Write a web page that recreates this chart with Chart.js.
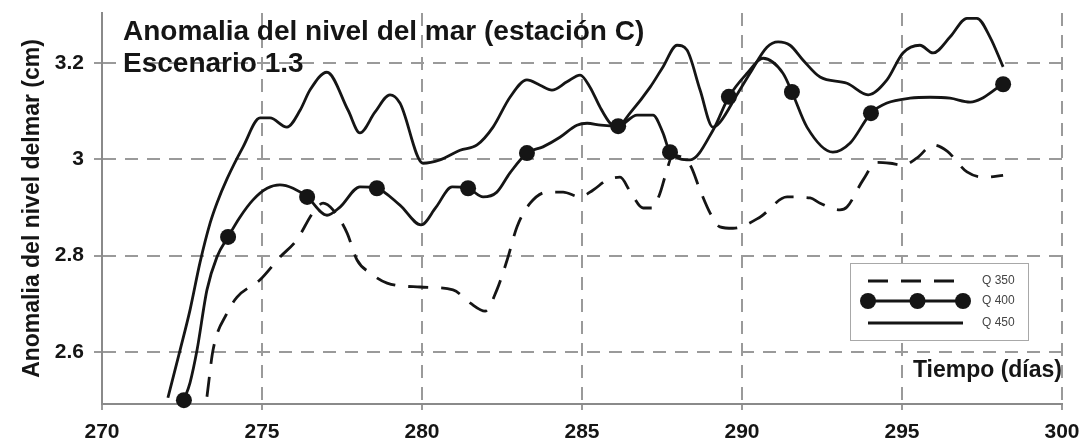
<!DOCTYPE html>
<html lang="es">
<head>
<meta charset="utf-8">
<title>Anomalia del nivel del mar</title>
<script src="https://cdn.jsdelivr.net/npm/chart.js@4.4.1/dist/chart.umd.min.js"></script>
<style>
  html, body { margin: 0; padding: 0; background: #fff; }
  #grafico { display: block; }
</style>
</head>
<body>
<canvas id="grafico" width="1084" height="446"></canvas>
<script>
// datos (dias / cm)
const q350Dias = [273.28, 273.47, 273.91, 274.22, 274.94, 275.56, 276.09, 276.59, 276.91, 277.22,
  277.66, 277.97, 278.38, 278.91, 279.94, 280.97, 281.5, 281.97, 282.34, 282.66,
  282.97, 283.38, 283.91, 284.41, 284.94, 285.34, 285.78, 286.19, 286.5, 286.91,
  287.19, 287.44, 287.59, 287.84, 288.38, 288.69, 289.0, 289.31, 289.72, 290.56,
  291.41, 292.13, 292.44, 293.06, 293.28, 293.78, 294.22, 294.63, 295.03, 295.47,
  295.97, 296.41, 297.03, 297.59, 298.16];
const q350Valores = [2.507, 2.604, 2.681, 2.714, 2.75, 2.797, 2.833, 2.889, 2.909, 2.895,
  2.847, 2.791, 2.764, 2.743, 2.735, 2.729, 2.702, 2.685, 2.729, 2.791,
  2.86, 2.909, 2.932, 2.932, 2.922, 2.936, 2.957, 2.963, 2.934, 2.899,
  2.899, 2.93, 2.963, 3.008, 2.988, 2.936, 2.889, 2.86, 2.857, 2.88,
  2.922, 2.92, 2.909, 2.895, 2.901, 2.957, 2.994, 2.992, 2.988, 3.003,
  3.03, 3.017, 2.974, 2.963, 2.967];

const q400Dias = [272.56, 272.75, 272.97, 273.28, 273.59, 273.94, 274.31, 274.72, 275.16, 275.56,
  275.97, 276.41, 277.03, 277.44, 278.06, 278.59, 279.31, 279.97, 280.44, 280.94,
  281.44, 281.91, 282.34, 282.75, 283.28, 283.78, 284.31, 284.84, 285.16, 285.59,
  286.13, 286.72, 287.22, 287.53, 287.75, 288.38, 289.09, 289.59, 290.16, 290.66,
  291.28, 291.56, 292.03, 292.84, 293.38, 294.03, 294.53, 295.25, 295.88, 296.5,
  297.13, 298.16];
const q400Valores = [2.5, 2.536, 2.604, 2.729, 2.797, 2.839, 2.88, 2.916, 2.94, 2.947,
  2.94, 2.922, 2.884, 2.901, 2.943, 2.94, 2.905, 2.864, 2.901, 2.943,
  2.94, 2.922, 2.932, 2.972, 3.013, 3.026, 3.046, 3.071, 3.075, 3.071,
  3.069, 3.092, 3.092, 3.055, 3.015, 2.999, 3.06, 3.13, 3.179, 3.21,
  3.179, 3.14, 3.067, 3.015, 3.034, 3.096, 3.117, 3.127, 3.129, 3.127,
  3.119, 3.156];
// indices de q400 que llevan marcador
const q400Marcas = [0, 5, 11, 15, 20, 24, 30, 34, 37, 41, 45, 51];

const q450Dias = [272.06, 272.44, 272.75, 273.06, 273.38, 273.59, 273.91, 274.41, 274.94, 275.25,
  275.78, 276.19, 276.5, 277.03, 277.69, 278.06, 278.53, 279.0, 279.31, 280.03,
  280.56, 281.19, 281.72, 282.22, 282.75, 283.28, 283.69, 284.06, 284.53, 284.94,
  285.25, 285.56, 285.88, 286.09, 286.5, 287.13, 287.53, 287.97, 288.28, 288.69,
  289.09, 289.31, 289.84, 290.25, 290.78, 291.13, 291.5, 291.91, 292.44, 293.28,
  293.94, 294.53, 295.03, 295.56, 295.97, 296.5, 297.03, 297.34, 297.75, 298.16];
const q450Valores = [2.505, 2.604, 2.687, 2.785, 2.868, 2.909, 2.96, 3.026, 3.086, 3.086,
  3.067, 3.102, 3.144, 3.181, 3.102, 3.055, 3.098, 3.134, 3.117, 2.992,
  2.999, 3.019, 3.03, 3.067, 3.129, 3.165, 3.154, 3.144, 3.161, 3.175,
  3.15, 3.109, 3.075, 3.067, 3.096, 3.15, 3.192, 3.237, 3.227, 3.144,
  3.067, 3.077, 3.134, 3.179, 3.233, 3.244, 3.237, 3.206, 3.171, 3.158,
  3.134, 3.165, 3.221, 3.237, 3.221, 3.254, 3.293, 3.293, 3.254, 3.192];

const ticksX = [270, 275, 280, 285, 290, 295, 300];
const ticksY = [2.6, 2.8, 3.0, 3.2];
const titulo = ["Anomalia del nivel del mar (estación C)", "Escenario 1.3"];
const etiquetas = ["Q 350", "Q 400", "Q 450"];

const fuente = "'Liberation Sans', Arial, sans-serif";
const negro = "#151515";
const gris = "#9a9a9a";

function puntos(dias, valores) {
  return dias.map((d, i) => ({x: d, y: valores[i]}));
}

// titulo dentro del area del grafico
const tituloInterno = {
  id: "tituloInterno",
  afterDatasetsDraw(chart) {
    const {ctx, chartArea} = chart;
    ctx.save();
    ctx.fillStyle = negro;
    ctx.font = "bold 28px " + fuente;
    ctx.textBaseline = "alphabetic";
    ctx.fillText(titulo[0], chartArea.left + 21, chartArea.top + 27);
    ctx.fillText(titulo[1], chartArea.left + 21, chartArea.top + 59);
    ctx.restore();
  }
};

// leyenda con recuadro en la esquina inferior derecha
const leyendaInterna = {
  id: "leyendaInterna",
  afterDatasetsDraw(chart) {
    const {ctx, chartArea} = chart;
    const x0 = chartArea.right - 212;
    const y0 = chartArea.bottom - 141;
    ctx.save();
    ctx.fillStyle = "#fff";
    ctx.fillRect(x0, y0, 178, 77);
    ctx.strokeStyle = "#a8a8a8";
    ctx.lineWidth = 1;
    ctx.strokeRect(x0 + 0.5, y0 + 0.5, 178, 77);

    const filas = [18, 38, 60];
    chart.data.datasets.forEach((ds, i) => {
      const y = y0 + filas[i];
      const xa = x0 + 18, xb = x0 + 113;
      ctx.strokeStyle = ds.borderColor;
      ctx.lineWidth = ds.borderWidth;
      ctx.setLineDash(ds.borderDash || []);
      ctx.beginPath();
      ctx.moveTo(xa, y);
      ctx.lineTo(xb, y);
      ctx.stroke();
      ctx.setLineDash([]);
      if (i === 1) {
        ctx.fillStyle = ds.pointBackgroundColor;
        [xa, (xa + xb) / 2 + 2, xb].forEach((px) => {
          ctx.beginPath();
          ctx.arc(px, y, 8, 0, Math.PI * 2);
          ctx.fill();
        });
      }
      ctx.fillStyle = "#444";
      ctx.font = "12px " + fuente;
      ctx.textBaseline = "middle";
      ctx.fillText(etiquetas[i], x0 + 132, y);
    });
    ctx.restore();
  }
};

new Chart(document.getElementById("grafico"), {
  type: "line",
  data: {
    datasets: [
      {
        label: etiquetas[0],
        data: puntos(q350Dias, q350Valores),
        borderColor: negro,
        borderWidth: 2.8,
        borderDash: [20, 13],
        pointRadius: 0,
        cubicInterpolationMode: "monotone",
        clip: false
      },
      {
        label: etiquetas[1],
        data: puntos(q400Dias, q400Valores),
        borderColor: negro,
        borderWidth: 2.8,
        pointRadius: q400Dias.map((_, i) => q400Marcas.includes(i) ? 8 : 0),
        pointBackgroundColor: negro,
        pointBorderWidth: 0,
        cubicInterpolationMode: "monotone",
        clip: false
      },
      {
        label: etiquetas[2],
        data: puntos(q450Dias, q450Valores),
        borderColor: negro,
        borderWidth: 2.8,
        pointRadius: 0,
        cubicInterpolationMode: "monotone",
        clip: false
      }
    ]
  },
  options: {
    responsive: false,
    animation: false,
    events: [],
    layout: {padding: {top: 13, right: 22, left: 0, bottom: 0}},
    plugins: {
      legend: {display: false},
      tooltip: {enabled: false}
    },
    scales: {
      x: {
        type: "linear",
        min: 270,
        max: 300,
        afterBuildTicks: (axis) => { axis.ticks = ticksX.map((v) => ({value: v})); },
        afterFit: (axis) => {
          axis.height = 42;
          axis.paddingLeft = 0;
          axis.paddingRight = 0;
        },
        grid: {color: gris, lineWidth: 2, tickLength: 6},
        border: {color: "#8a8a8a", width: 2, dash: [13, 9]},
        ticks: {color: negro, padding: 10, maxRotation: 0, font: {family: fuente, size: 21, weight: "bold"}},
        title: {
          display: true,
          text: "Tiempo (días)",
          align: "end",
          color: negro,
          padding: {top: 0, bottom: 62},
          font: {family: fuente, size: 23, weight: "bold"}
        }
      },
      y: {
        type: "linear",
        min: 2.492,
        max: 3.304,
        afterBuildTicks: (axis) => { axis.ticks = ticksY.map((v) => ({value: v})); },
        afterFit: (axis) => {
          axis.width = 102;
          axis.paddingTop = 0;
          axis.paddingBottom = 0;
        },
        grid: {color: gris, lineWidth: 2, tickLength: 8},
        border: {color: "#8a8a8a", width: 2, dash: [13, 9]},
        ticks: {
          color: negro,
          padding: 10,
          font: {family: fuente, size: 21, weight: "bold"},
          callback: (v) => String(+v.toFixed(1))
        },
        title: {
          display: true,
          text: "Anomalia del nivel delmar (cm)",
          color: negro,
          padding: {top: 19, bottom: 0},
          font: {family: fuente, size: 23, weight: "bold"}
        }
      }
    }
  },
  plugins: [tituloInterno, leyendaInterna]
});
</script>
</body>
</html>
